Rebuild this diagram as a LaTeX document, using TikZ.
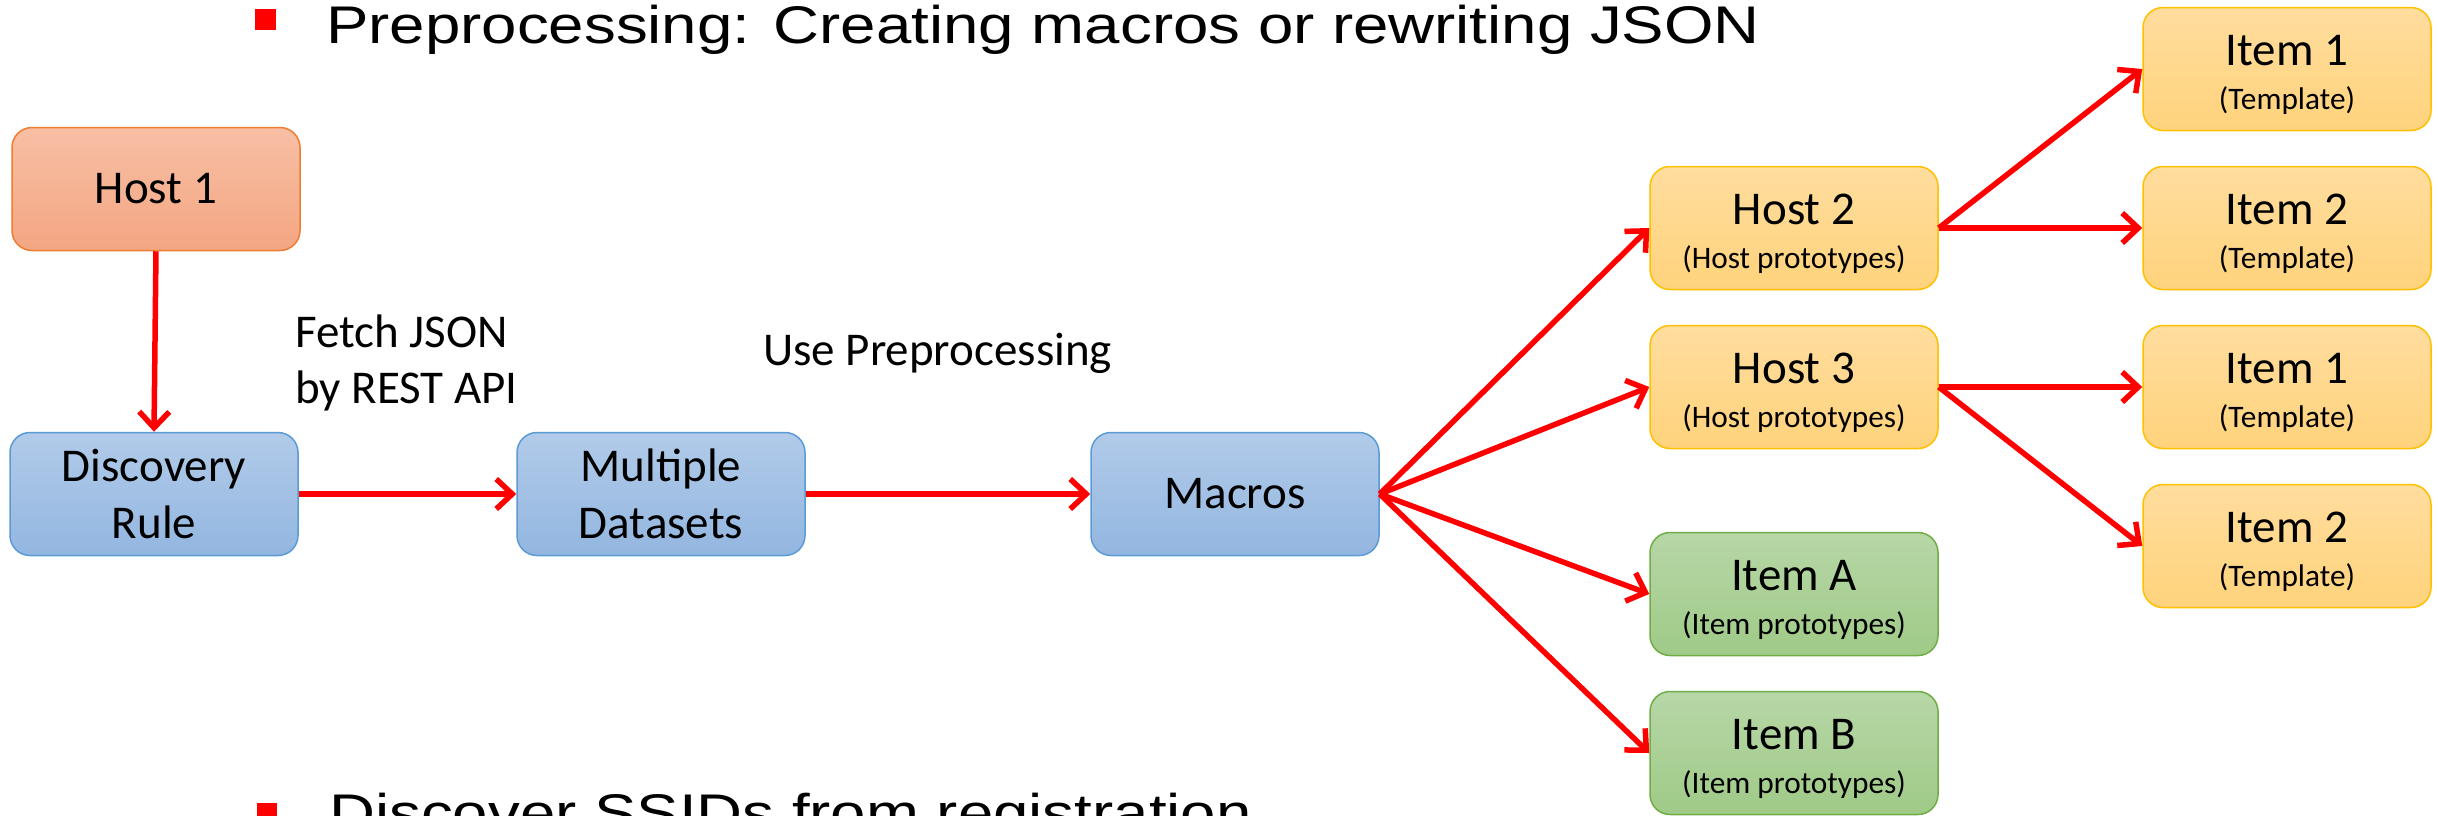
\documentclass[tikz,border=0pt]{standalone}
\usepackage{fontspec}
\setmainfont{Carlito}
\newfontfamily\headfont{Liberation Sans}
\usetikzlibrary{arrows.meta}

\definecolor{redline}{HTML}{FF0000}
\definecolor{orgTop}{HTML}{F7BFA5}
\definecolor{orgBot}{HTML}{F4A682}
\definecolor{orgLine}{HTML}{ED7D31}
\definecolor{bluTop}{HTML}{B1CBE9}
\definecolor{bluBot}{HTML}{93B6E0}
\definecolor{bluLine}{HTML}{5B9BD5}
\definecolor{ylwTop}{HTML}{FFDD9E}
\definecolor{ylwBot}{HTML}{FFD37C}
\definecolor{ylwLine}{HTML}{FFC000}
\definecolor{grnTop}{HTML}{B7D7A7}
\definecolor{grnBot}{HTML}{9FCA87}
\definecolor{grnLine}{HTML}{70AD47}

% first line strut keeps the two-level labels balanced in the box
\newcommand{\mainline}{\rule{0pt}{42pt}}
\newcommand{\subline}[1]{{\fontsize{31.3}{43.5}\selectfont #1}}

\tikzset{
  box/.style={rectangle, rounded corners=20pt, minimum width=288pt,
    minimum height=123pt, inner sep=0pt, align=center, line width=1.5pt,
    font=\fontsize{47}{57}\selectfont},
  twoline/.style={font=\fontsize{47}{43.5}\selectfont},
  orangebox/.style={box, draw=orgLine, top color=orgTop, bottom color=orgBot},
  bluebox/.style={box, draw=bluLine, top color=bluTop, bottom color=bluBot},
  yellowbox/.style={box, draw=ylwLine, top color=ylwTop, bottom color=ylwBot},
  greenbox/.style={box, draw=grnLine, top color=grnTop, bottom color=grnBot},
  conn/.style={draw=redline, line width=5.5pt,
    -{Straight Barb[length=16pt, width=30pt]}},
  caption/.style={inner sep=0pt, align=left, font=\fontsize{47}{56}\selectfont},
  bullettext/.style={inner sep=0pt, font=\headfont\fontsize{53}{60}\selectfont},
  bulletmark/.style={fill=redline, draw=none}
}

\begin{document}
\begin{tikzpicture}[x=1pt, y=-1pt]
  \useasboundingbox (0,0) rectangle (2438,815);
  \clip (0,0) rectangle (2438,815);

  % slide bullet lines
  \fill[bulletmark] (255,9) rectangle (276,30);
  \node[bullettext, anchor=base west] (head) at (326,43)
    {\scalebox{1.2}[1]{Preprocessing: Creating macros or rewriting JSON}};
  \fill[bulletmark] (257,803) rectangle (277,824);
  \node[bullettext, anchor=base west] (foot) at (329,831)
    {\scalebox{1.2}[1]{Discover SSIDs from registration}};

  % main flow
  \node[orangebox] (h1) at (156,189) {Host 1};
  \node[bluebox] (dr) at (154,494) {Discovery\\Rule};
  \node[bluebox] (md) at (661,494) {Multiple\\Datasets};
  \node[bluebox] (mc) at (1235,494) {Macros};

  % prototypes
  \node[yellowbox, twoline] (h2) at (1794,228) {\mainline Host 2\\\subline{(Host prototypes)}};
  \node[yellowbox, twoline] (h3) at (1794,387) {\mainline Host 3\\\subline{(Host prototypes)}};
  \node[greenbox, twoline] (ia) at (1794,594) {\mainline Item A\\\subline{(Item prototypes)}};
  \node[greenbox, twoline] (ib) at (1794,753) {\mainline Item B\\\subline{(Item prototypes)}};

  % templates
  \node[yellowbox, twoline] (i1) at (2287,69) {\mainline Item 1\\\subline{(Template)}};
  \node[yellowbox, twoline] (i2) at (2287,228) {\mainline Item 2\\\subline{(Template)}};
  \node[yellowbox, twoline] (i1b) at (2287,387) {\mainline Item 1\\\subline{(Template)}};
  \node[yellowbox, twoline] (i2b) at (2287,546) {\mainline Item 2\\\subline{(Template)}};

  % captions (base anchor sits on the last line)
  \node[caption, anchor=base west] (fetch) at (295,403) {Fetch JSON\\by REST API};
  \node[caption, anchor=base west] (usepre) at (763,365) {Use Preprocessing};

  % connectors
  \draw[conn] (h1.south) -- (dr.north);
  \draw[conn] (dr.east) -- (md.west);
  \draw[conn] (md.east) -- (mc.west);
  \draw[conn] (mc.east) -- (h2.west);
  \draw[conn] (mc.east) -- (h3.west);
  \draw[conn] (mc.east) -- (ia.west);
  \draw[conn] (mc.east) -- (ib.west);
  \draw[conn] (h2.east) -- (i1.west);
  \draw[conn] (h2.east) -- (i2.west);
  \draw[conn] (h3.east) -- (i1b.west);
  \draw[conn] (h3.east) -- (i2b.west);
\end{tikzpicture}
\end{document}
